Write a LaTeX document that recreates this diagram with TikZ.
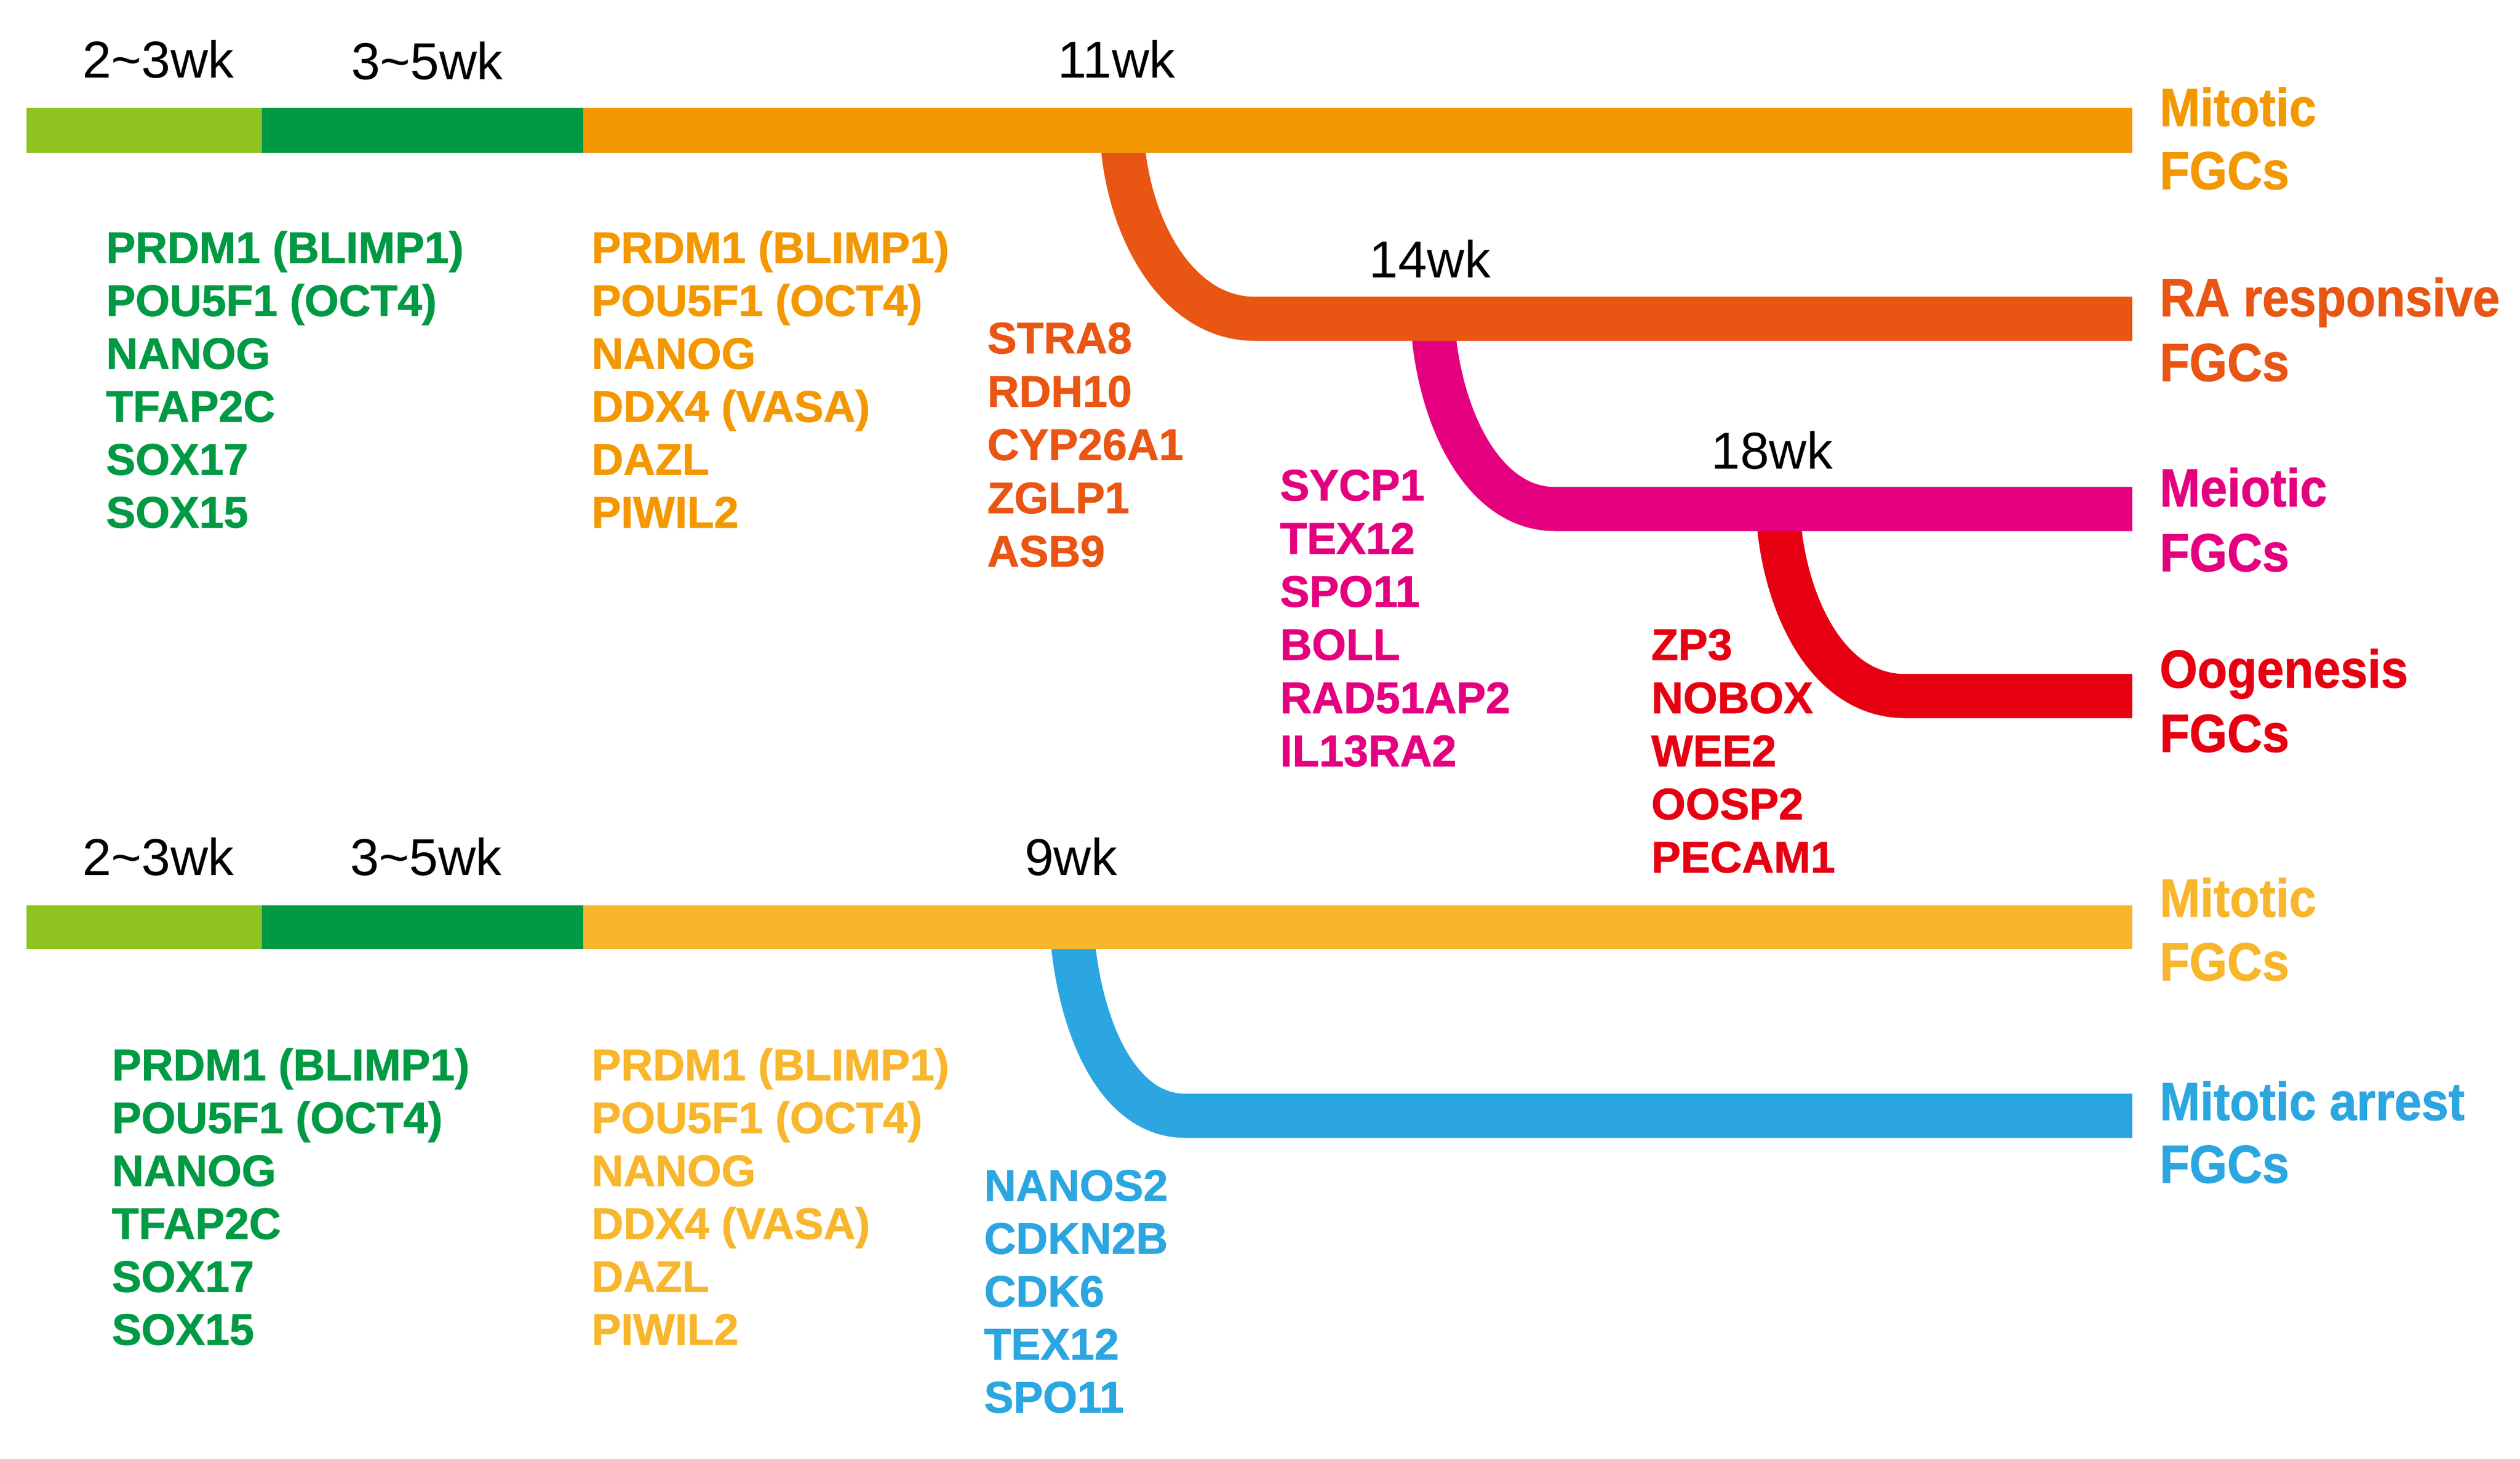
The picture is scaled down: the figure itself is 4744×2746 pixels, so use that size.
\documentclass[tikz,border=0pt]{standalone}
\usepackage{fontspec}
\setmainfont{Liberation Sans}[BoldFeatures={FakeBold=1.2}]
\definecolor{lgreen}{HTML}{8FC31F}
\definecolor{dgreen}{HTML}{009944}
\definecolor{orangeA}{HTML}{F39800}
\definecolor{orred}{HTML}{E95513}
\definecolor{magentaA}{HTML}{E4007F}
\definecolor{redA}{HTML}{E60012}
\definecolor{yellowA}{HTML}{F8B62D}
\definecolor{blueA}{HTML}{2CA6E0}
\begin{document}
\begin{tikzpicture}[x=0.01cm,y=-0.01cm,
  wk/.style={anchor=base, inner sep=0, font=\fontsize{27.8pt}{30pt}\selectfont},
  gene/.style={anchor=base west, inner sep=0, font=\bfseries\fontsize{23.6pt}{28pt}\selectfont},
  fgc/.style={anchor=base west, inner sep=0, font=\bfseries\fontsize{26pt}{30pt}\selectfont},
  branch/.style={line width=8.3mm, line join=round}]
\useasboundingbox (0,0) rectangle (4744,2746);

% ---------- top panel: branches (drawn from last to first) ----------
\coordinate (r0) at (3350,960);
\coordinate (r1) at (3350,999);
\coordinate (r2) at (3586,1310);
\coordinate (r3) at (4014,1310);
\draw[branch, redA] (r0) -- (r1) .. controls (3369,1160) and (3450,1310) .. (r2) -- (r3);
\coordinate (m0) at (2700,600);
\coordinate (m1) at (2700,641);
\coordinate (m2) at (2927,958);
\coordinate (m3) at (4014,958);
\draw[branch, magentaA] (m0) -- (m1) .. controls (2719,806) and (2800,958) .. (m2) -- (m3);
\coordinate (o0) at (2115,246);
\coordinate (o1) at (2115,288);
\coordinate (o2) at (2362,600);
\coordinate (o3) at (4014,600);
\draw[branch, orred] (o0) -- (o1) .. controls (2134,450) and (2225,600) .. (o2) -- (o3);

% main top bar
\fill[lgreen] (50,203) rectangle (493,288);
\fill[dgreen] (493,203) rectangle (1098,288);
\fill[orangeA] (1098,203) rectangle (4014,288);

% ---------- bottom panel ----------
\coordinate (b0) at (2021,1745);
\coordinate (b1) at (2021,1786);
\coordinate (b2) at (2231,2100);
\coordinate (b3) at (4014,2100);
\draw[branch, blueA] (b0) -- (b1) .. controls (2040,1950) and (2110,2100) .. (b2) -- (b3);
\fill[lgreen] (50,1704) rectangle (493,1786);
\fill[dgreen] (493,1704) rectangle (1098,1786);
\fill[yellowA] (1098,1704) rectangle (4014,1786);

% ---------- week labels ----------
\node[wk] (w1) at (298,147) {2\textasciitilde3wk};
\node[wk] (w2) at (804,150) {3\textasciitilde5wk};
\node[wk] (w3) at (2102,147) {11wk};
\node[wk] (w4) at (2692,523) {14wk};
\node[wk] (w5) at (3336,883) {18wk};
\node[wk] (w6) at (298,1647) {2\textasciitilde3wk};
\node[wk] (w7) at (802,1647) {3\textasciitilde5wk};
\node[wk] (w8) at (2016,1647) {9wk};

% ---------- right labels ----------
\node[fgc, orangeA] (f1a) at (4065,237) {\scalebox{1}[1.1]{Mitotic}};
\node[fgc, orangeA] (f1b) at (4065,356) {\scalebox{1}[1.1]{FGCs}};
\node[fgc, orred] (f2a) at (4065,595) {\scalebox{1}[1.1]{RA responsive}};
\node[fgc, orred] (f2b) at (4065,717) {\scalebox{1}[1.1]{FGCs}};
\node[fgc, magentaA] (f3a) at (4065,953) {\scalebox{1}[1.1]{Meiotic}};
\node[fgc, magentaA] (f3b) at (4065,1075) {\scalebox{1}[1.1]{FGCs}};
\node[fgc, redA] (f4a) at (4065,1294) {\scalebox{1}[1.1]{Oogenesis}};
\node[fgc, redA] (f4b) at (4065,1415) {\scalebox{1}[1.1]{FGCs}};
\node[fgc, yellowA] (f5a) at (4065,1725) {\scalebox{1}[1.1]{Mitotic}};
\node[fgc, yellowA] (f5b) at (4065,1845) {\scalebox{1}[1.1]{FGCs}};
\node[fgc, blueA] (f6a) at (4065,2108) {\scalebox{1}[1.1]{Mitotic arrest}};
\node[fgc, blueA] (f6b) at (4065,2226) {\scalebox{1}[1.1]{FGCs}};

% ---------- gene lists ----------
\foreach \g [count=\i from 0] in {PRDM1 (BLIMP1),POU5F1 (OCT4),NANOG,TFAP2C,SOX17,SOX15}
  \node[gene, dgreen] (ga\i) at (199,{495+99.6*\i}) {\g};
\foreach \g [count=\i from 0] in {PRDM1 (BLIMP1),POU5F1 (OCT4),NANOG,DDX4 (VASA),DAZL,PIWIL2}
  \node[gene, orangeA] (gb\i) at (1113,{495+99.6*\i}) {\g};
\foreach \g [count=\i from 0] in {STRA8,RDH10,CYP26A1,ZGLP1,ASB9}
  \node[gene, orred] (gc\i) at (1858,{665+100.3*\i}) {\g};
\foreach \g [count=\i from 0] in {SYCP1,TEX12,SPO11,BOLL,RAD51AP2,IL13RA2}
  \node[gene, magentaA] (gd\i) at (2409,{942+100*\i}) {\g};
\foreach \g [count=\i from 0] in {ZP3,NOBOX,WEE2,OOSP2,PECAM1}
  \node[gene, redA] (ge\i) at (3108,{1242+100*\i}) {\g};
\foreach \g [count=\i from 0] in {PRDM1 (BLIMP1),POU5F1 (OCT4),NANOG,TFAP2C,SOX17,SOX15}
  \node[gene, dgreen] (gf\i) at (210,{2033+99.6*\i}) {\g};
\foreach \g [count=\i from 0] in {PRDM1 (BLIMP1),POU5F1 (OCT4),NANOG,DDX4 (VASA),DAZL,PIWIL2}
  \node[gene, yellowA] (gg\i) at (1113,{2033+99.6*\i}) {\g};
\foreach \g [count=\i from 0] in {NANOS2,CDKN2B,CDK6,TEX12,SPO11}
  \node[gene, blueA] (gh\i) at (1852,{2260+99.6*\i}) {\g};
\end{tikzpicture}
\end{document}
